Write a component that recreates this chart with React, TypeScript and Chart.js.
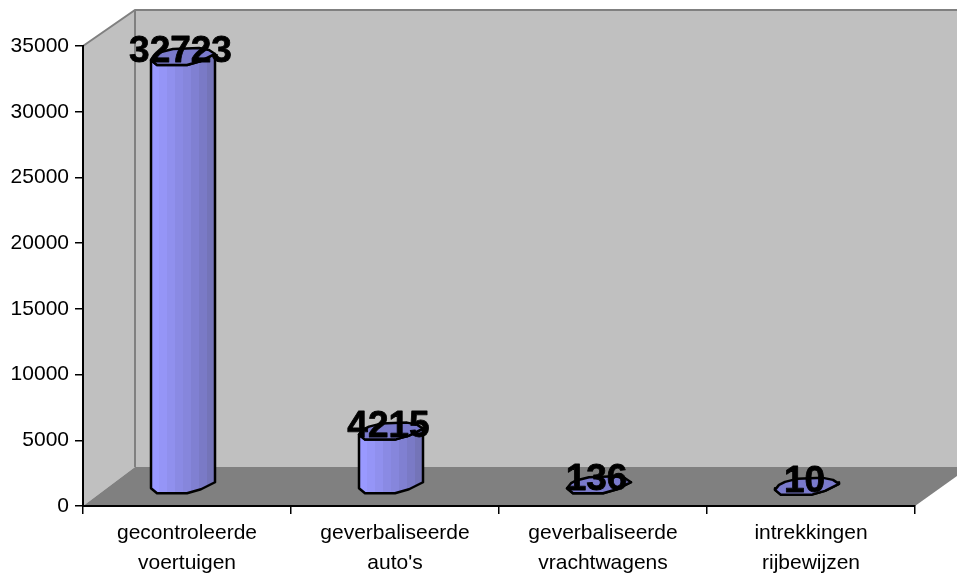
import React, { useEffect, useRef } from "react";
import { Chart, registerables } from "chart.js";

Chart.register(...registerables);

const categories = [
  ["gecontroleerde", "voertuigen"],
  ["geverbaliseerde", "auto's"],
  ["geverbaliseerde", "vrachtwagens"],
  ["intrekkingen", "rijbewijzen"],
];
const values = [32723, 4215, 136, 10];

const FONT = '"Liberation Sans", Arial, sans-serif';
const WALL = "#c0c0c0";
const FLOOR = "#808080";
const TOP_FACE = "#7a7acc";
const BANDS = ["#9999ff", "#9595f7", "#9090ee", "#8a8ae4", "#8686dc", "#8080d2", "#7a7ac6", "#7474b8"];

// 3D shape of the chart (pixel offsets)
const DEPTH_X = 52;
const DEPTH_Y_BOTTOM = 39;
const DEPTH_Y_TOP = 36;
const RIM_FRONT: [number, number][] = [[-32, 3], [-26, 8], [-10, 8], [4, 8], [18, 4], [32, -3]];
const RIM_BACK: [number, number][] = [[26, -7], [16, -9], [-10, -8], [-22, -5], [-28, -2]];

const walls3d = {
  id: "walls3d",
  beforeDraw(chart: any) {
    const { ctx, chartArea: a, width } = chart;
    const bx = a.left + DEPTH_X;
    const topB = a.top - DEPTH_Y_TOP;
    const botB = a.bottom - DEPTH_Y_BOTTOM;
    ctx.save();
    // left wall + back wall
    ctx.fillStyle = WALL;
    ctx.beginPath();
    ctx.moveTo(a.left, a.top);
    ctx.lineTo(bx, topB);
    ctx.lineTo(width, topB);
    ctx.lineTo(width, botB);
    ctx.lineTo(bx, botB);
    ctx.lineTo(a.left, a.bottom);
    ctx.closePath();
    ctx.fill();
    // floor
    ctx.fillStyle = FLOOR;
    ctx.beginPath();
    ctx.moveTo(a.left, a.bottom);
    ctx.lineTo(bx, botB);
    ctx.lineTo(width, botB);
    ctx.lineTo(width, a.bottom - 30);
    ctx.lineTo(a.right, a.bottom);
    ctx.closePath();
    ctx.fill();
    // wall edges
    ctx.strokeStyle = FLOOR;
    ctx.lineWidth = 2;
    ctx.beginPath();
    ctx.moveTo(a.left, a.top);
    ctx.lineTo(bx, topB);
    ctx.lineTo(width, topB);
    ctx.moveTo(bx, topB);
    ctx.lineTo(bx, botB);
    ctx.stroke();
    ctx.restore();
  },
};

const cylinders = {
  id: "cylinders",
  afterDatasetsDraw(chart: any) {
    const { ctx } = chart;
    const meta = chart.getDatasetMeta(0);
    meta.data.forEach((el: any, i: number) => {
      const cx = el.x - 4;
      const topY = el.y - 19;
      const baseY = el.base - 20;
      const last = RIM_FRONT[RIM_FRONT.length - 1];
      const body = () => {
        ctx.beginPath();
        ctx.moveTo(cx + RIM_FRONT[0][0], topY + RIM_FRONT[0][1]);
        ctx.lineTo(cx + RIM_FRONT[0][0], baseY + RIM_FRONT[0][1]);
        RIM_FRONT.slice(1).forEach(([dx, dy]) => ctx.lineTo(cx + dx, baseY + dy));
        ctx.lineTo(cx + last[0], topY + last[1]);
        [...RIM_FRONT].reverse().slice(1).forEach(([dx, dy]) => ctx.lineTo(cx + dx, topY + dy));
        ctx.closePath();
      };
      ctx.save();
      ctx.save();
      body();
      ctx.clip();
      const bw = 64 / BANDS.length;
      BANDS.forEach((c, k) => {
        ctx.fillStyle = c;
        ctx.fillRect(cx - 32 + k * bw, topY - 12, bw + 0.5, baseY - topY + 30);
      });
      ctx.restore();
      ctx.strokeStyle = "#000";
      ctx.lineWidth = 2.5;
      ctx.lineJoin = "round";
      body();
      ctx.stroke();
      // top face
      ctx.beginPath();
      [...RIM_FRONT, ...RIM_BACK].forEach(([dx, dy], k) => {
        if (k === 0) ctx.moveTo(cx + dx, topY + dy);
        else ctx.lineTo(cx + dx, topY + dy);
      });
      ctx.closePath();
      ctx.fillStyle = TOP_FACE;
      ctx.fill();
      ctx.stroke();
      // value label
      ctx.fillStyle = "#000";
      ctx.strokeStyle = "#000";
      ctx.lineWidth = 0.8;
      ctx.font = `bold 37px ${FONT}`;
      ctx.textAlign = "center";
      ctx.textBaseline = "middle";
      ctx.fillText(String(values[i]), el.x - 6.5, el.y - 24);
      ctx.strokeText(String(values[i]), el.x - 6.5, el.y - 24);
      ctx.restore();
    });
  },
};

export default function App() {
  const ref = useRef<HTMLCanvasElement | null>(null);
  useEffect(() => {
    if (!ref.current) return;
    const chart = new Chart(ref.current, {
      type: "bar",
      data: {
        labels: categories as any,
        datasets: [{ data: values, backgroundColor: "rgba(0,0,0,0)", borderWidth: 0 }],
      },
      options: {
        responsive: false,
        animation: false,
        events: [],
        layout: { padding: { top: 46, right: 42, left: 0, bottom: 0 } },
        plugins: { legend: { display: false }, tooltip: { enabled: false } },
        scales: {
          x: {
            grid: { drawOnChartArea: false, drawTicks: true, tickLength: 8, color: "#000", lineWidth: 1.5 },
            border: { color: "#000", width: 2 },
            ticks: {
              color: "#000",
              padding: 4,
              maxRotation: 0,
              autoSkip: false,
              font: { family: FONT, size: 21, lineHeight: 1.43 },
            },
            afterFit: (s: any) => { s.height = 71; },
          },
          y: {
            min: 0,
            max: 35000,
            grid: { drawOnChartArea: false, drawTicks: true, tickLength: 8, color: "#000", lineWidth: 1.5 },
            border: { color: "#000", width: 2 },
            ticks: {
              stepSize: 5000,
              color: "#000",
              padding: 6,
              font: { family: FONT, size: 21 },
              callback: (v: any) => String(v),
            },
            afterFit: (s: any) => { s.width = 83; },
          },
        },
      },
      plugins: [walls3d, cylinders],
    } as any);
    return () => chart.destroy();
  }, []);
  return (
    <div style={{ position: "fixed", left: 0, top: 0, width: 957, height: 577, background: "#fff" }}>
      <canvas ref={ref} width={957} height={577} style={{ display: "block", width: 957, height: 577 }} />
    </div>
  );
}
